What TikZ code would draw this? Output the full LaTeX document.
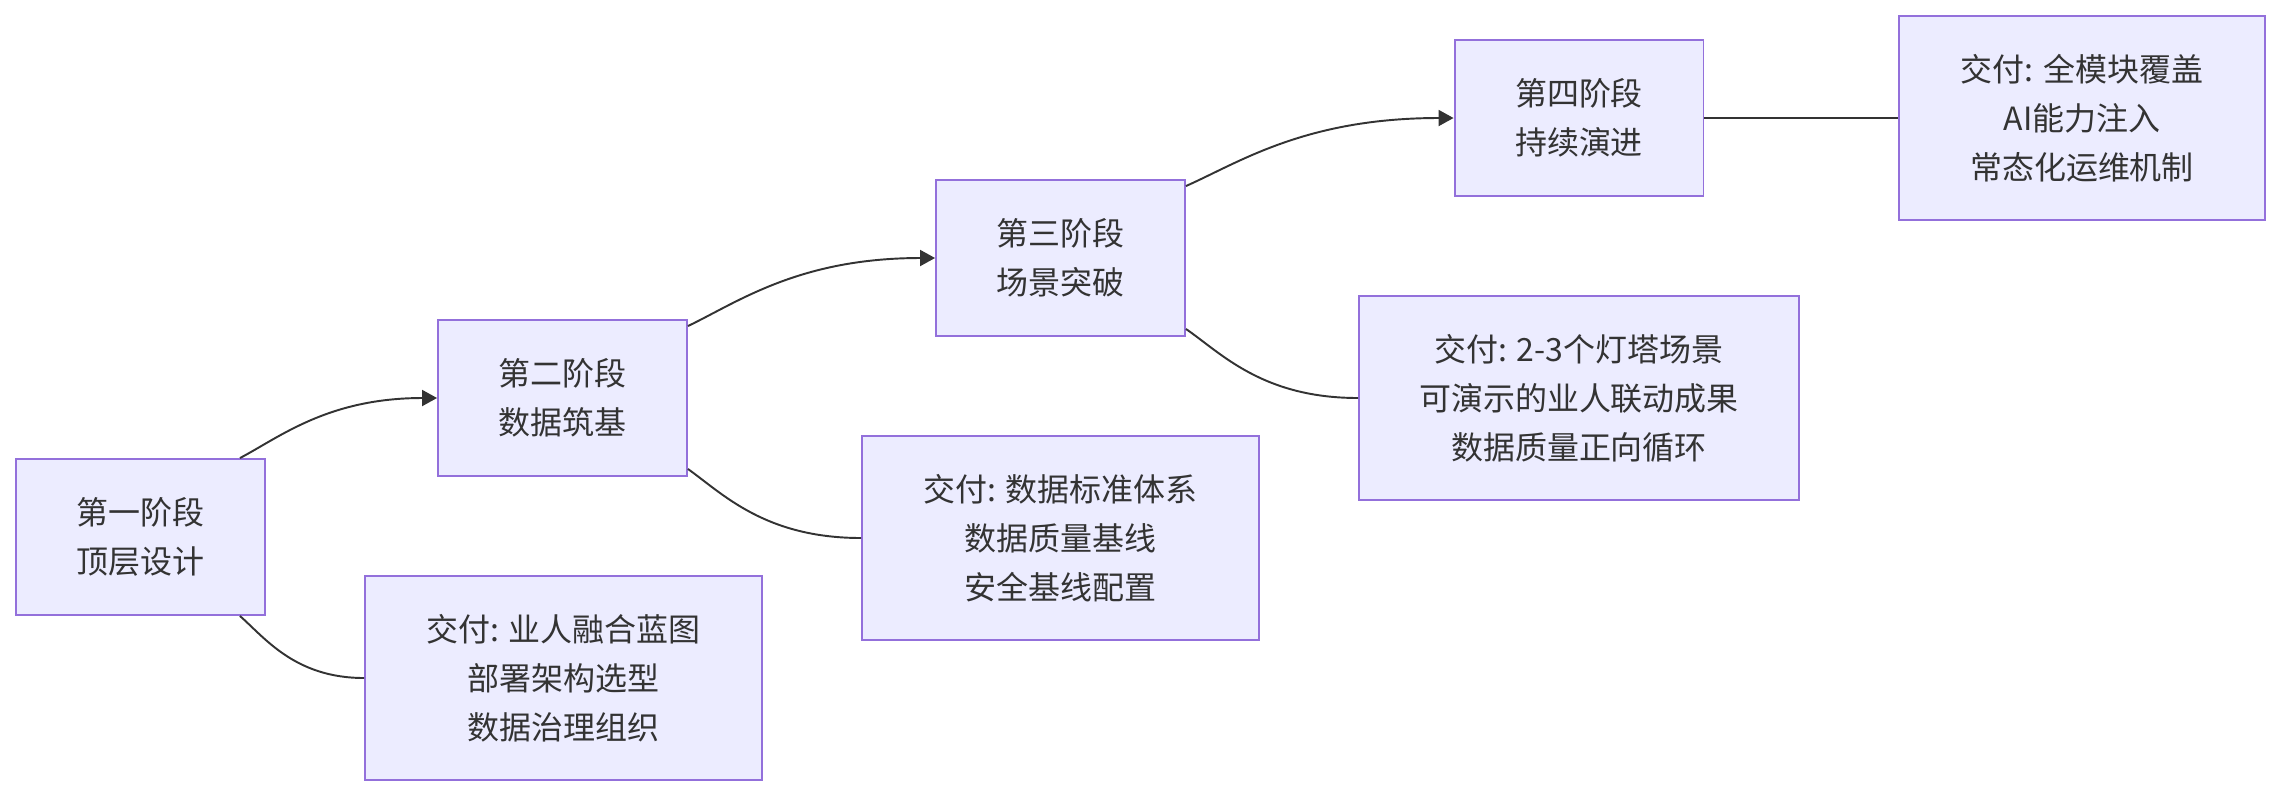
\documentclass[tikz,border=0pt]{standalone}
\usepackage{fontspec}
\setmainfont{Noto Sans CJK SC}
\usepackage{tikz}
\usetikzlibrary{positioning, arrows.meta, calc}

\definecolor{boxfill}{HTML}{ECECFF}
\definecolor{boxline}{HTML}{9370DB}
\definecolor{ink}{HTML}{333333}

\begin{document}
\begin{tikzpicture}[x=0.02cm, y=-0.02cm, >={Triangle[length=0.3cm,width=0.32cm]},
    stage/.style={draw=boxline, fill=boxfill, line width=1.1pt, text=ink, align=center,
        minimum width=4.98cm, minimum height=3.12cm, inner sep=0pt,
        font=\fontsize{18.2pt}{27.9pt}\selectfont},
    deliv/.style={stage, minimum height=4.08cm},
    link/.style={draw=ink, line width=1.1pt}]
    \useasboundingbox (0,0) rectangle (2280,796);
    % Stages
    \node[stage] (s1) at (140.5,537) {第一阶段\\顶层设计};
    \node[stage] (s2) at (562.5,398) {第二阶段\\数据筑基};
    \node[stage] (s3) at (1060.5,258) {第三阶段\\场景突破};
    \node[stage] (s4) at (1579,118) {第四阶段\\持续演进};
    % Deliverables
    \node[deliv, minimum width=7.94cm] (d1) at (563.5,678) {交付: 业人融合蓝图\\部署架构选型\\数据治理组织};
    \node[deliv, minimum width=7.94cm] (d2) at (1060.5,538) {交付: 数据标准体系\\数据质量基线\\安全基线配置};
    \node[deliv, minimum width=8.8cm] (d3) at (1579,398) {交付: 2-3个灯塔场景\\可演示的业人联动成果\\数据质量正向循环};
    \node[deliv, minimum width=7.32cm] (d4) at (2082,118) {交付: 全模块覆盖\\AI能力注入\\常态化运维机制};
    % Stage to stage
    \draw[link, ->] ([xshift=-0.52cm]s1.north east) .. controls +(40,-21) and +(-109,0) .. (s2.west);
    \draw[link, ->] ([yshift=-0.14cm]s2.north east) .. controls +(50,-24) and +(-136,0) .. (s3.west);
    \draw[link, ->] ([yshift=-0.14cm]s3.north east) .. controls +(54,-24) and +(-148,0) .. (s4.west);
    % Stage to deliverable
    \draw[link] ([xshift=-0.52cm]s1.south east) .. controls +(25,22) and +(-69,0) .. (d1.west);
    \draw[link] ([yshift=0.16cm]s2.south east) .. controls +(35,25) and +(-96,0) .. (d2.west);
    \draw[link] ([yshift=0.16cm]s3.south east) .. controls +(35,24) and +(-96,0) .. (d3.west);
    \draw[link] (s4.east) -- (d4.west);
\end{tikzpicture}
\end{document}
